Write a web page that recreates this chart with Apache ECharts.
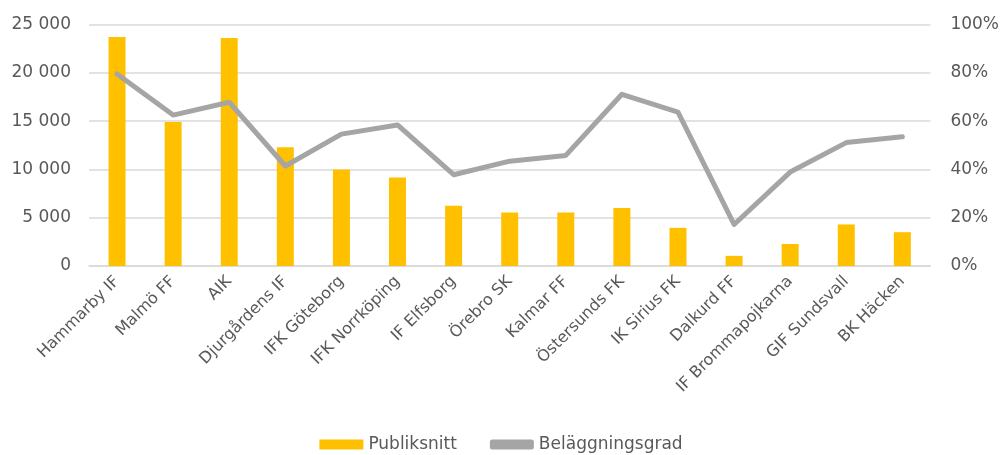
<!DOCTYPE html>
<html>
<head>
<meta charset="utf-8">
<script src="https://cdn.jsdelivr.net/npm/echarts@6/dist/echarts.min.js"></script>
<style>
  html, body { margin: 0; padding: 0; background: #fff; }
  #main { width: 1002px; height: 455px; }
</style>
</head>
<body>
<div id="main"></div>
<script>
var teams = ['Hammarby IF', 'Malmö FF', 'AIK', 'Djurgårdens IF', 'IFK Göteborg', 'IFK Norrköping',
  'IF Elfsborg', 'Örebro SK', 'Kalmar FF', 'Östersunds FK', 'IK Sirius FK', 'Dalkurd FF',
  'IF Brommapojkarna', 'GIF Sundsvall', 'BK Häcken'];
var publiksnitt = [23700, 14900, 23600, 12300, 10000, 9150, 6250, 5550, 5550, 6000, 3950, 1050, 2280, 4300, 3500];
var belaggning = [0.795, 0.625, 0.678, 0.414, 0.546, 0.584, 0.378, 0.434, 0.458, 0.711, 0.637, 0.172, 0.389, 0.511, 0.535];

var txt = '#595959';
var fontFam = '"DejaVu Sans", sans-serif';

var chartDom = document.getElementById('main');
var myChart = echarts.init(chartDom);
var option = {
    animation: false,
    textStyle: { fontFamily: fontFam },
    grid: { left: 89, right: 71, top: 24.5, bottom: 189, containLabel: false },
    legend: {
        top: 436,
        left: 'center',
        padding: 0,
        itemWidth: 44,
        itemHeight: 10,
        itemGap: 33,
        textStyle: { color: txt, fontSize: 17, fontFamily: fontFam },
        data: [
            { name: 'Publiksnitt', icon: 'rect' },
            { name: 'Beläggningsgrad', icon: 'roundRect' }
        ]
    },
    xAxis: {
        type: 'category',
        data: teams,
        axisLine: { show: true, lineStyle: { color: '#d9d9d9', width: 1.5 } },
        axisTick: { show: false },
        axisLabel: { interval: 0, rotate: 45, margin: 13, color: txt, fontSize: 16 }
    },
    yAxis: [
        {
            type: 'value',
            min: 0, max: 25000, interval: 5000,
            axisLine: { show: false },
            axisTick: { show: false },
            splitLine: { lineStyle: { color: '#d9d9d9', width: 1.5 } },
            axisLabel: {
                margin: 18, color: txt, fontSize: 17,
                formatter: function (v) {
                    return String(v).replace(/\B(?=(\d{3})+(?!\d))/g, ' ');
                }
            }
        },
        {
            type: 'value',
            min: 0, max: 1, interval: 0.2,
            axisLine: { show: false },
            axisTick: { show: false },
            splitLine: { show: false },
            axisLabel: {
                margin: 20, color: txt, fontSize: 17,
                formatter: function (v) { return Math.round(v * 100) + '%'; }
            }
        }
    ],
    series: [
        {
            name: 'Publiksnitt',
            type: 'bar',
            data: publiksnitt,
            barWidth: 17,
            itemStyle: { color: '#FFC000' }
        },
        {
            name: 'Beläggningsgrad',
            type: 'line',
            yAxisIndex: 1,
            data: belaggning,
            symbol: 'none',
            lineStyle: { color: '#A5A5A5', width: 5, cap: 'round', join: 'round' },
            itemStyle: { color: '#A5A5A5' }
        }
    ]
};
myChart.setOption(option);
</script>
</body>
</html>
